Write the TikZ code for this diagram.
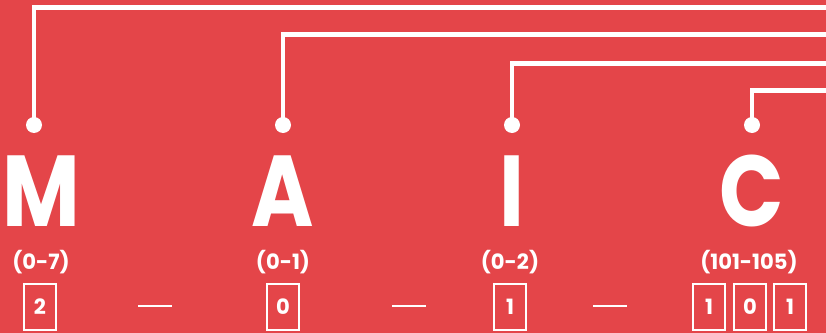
\documentclass[tikz,border=0pt]{standalone}
\usepackage{fontspec}
\setmainfont{Poppins}
\definecolor{codered}{RGB}{228,69,73}
\tikzstyle{every node}=[font=\normalsize, text=white]
\tikzset{
  wire/.style={white, line width=4.2pt},
  pinpt/.style={circle, fill=white, inner sep=0pt, minimum size=0.48cm},
  letter/.style={anchor=base, inner sep=0pt, text depth=0pt, xscale=0.84, transform shape,
    font=\fontsize{86}{86}\selectfont\bfseries},
  rangelbl/.style={inner sep=0pt, font=\fontsize{18}{18}\selectfont\bfseries},
  digitbox/.style={draw=white, line width=1.6pt, inner sep=0pt, minimum width=0.96cm,
    minimum height=1.4cm, font=\fontsize{18}{18}\selectfont\bfseries},
  dashline/.style={white, line width=1.6pt}
}

\begin{document}
\begin{tikzpicture}[x=0.03cm, y=-0.03cm]
  \useasboundingbox[fill=codered] (0,0) rectangle (826,333);
  \clip (0,0) rectangle (826,333);

  % Buchstaben
  \node[letter] (M) at (41,226) {M};
  \node[letter] (A) at (283,226) {A};
  \node[letter] (I) at (512,226) {I};
  \node[letter] (C) at (752,226) {C};

  % Stifte und Leitungen
  \node[pinpt] (pM) at (34,125) {};
  \node[pinpt] (pA) at (283,125) {};
  \node[pinpt] (pI) at (512,125) {};
  \node[pinpt] (pC) at (752,125) {};
  \coordinate (eM) at (840,7.5);
  \coordinate (eA) at (840,34.5);
  \coordinate (eI) at (840,63.5);
  \coordinate (eC) at (840,90.5);
  \draw[wire] (pM.center) |- (eM);
  \draw[wire] (pA.center) |- (eA);
  \draw[wire] (pI.center) |- (eI);
  \draw[wire] (pC.center) |- (eC);

  % Bereiche
  \node[rangelbl] (rM) at (41,262) {(0-7)};
  \node[rangelbl] (rA) at (283,262) {(0-1)};
  \node[rangelbl] (rI) at (510,262) {(0-2)};
  \node[rangelbl] (rC) at (749,262) {(101-105)};

  % Ziffern
  \node[digitbox] (bM) at (40,307) {2};
  \node[digitbox] (bA) at (283,307) {0};
  \node[digitbox] (bI) at (510,307) {1};
  \node[digitbox] (bC1) at (709,307) {1};
  \node[digitbox] (bC2) at (750,307) {0};
  \node[digitbox] (bC3) at (790,307) {1};

  % Striche
  \draw[dashline] (138,306) -- (172,306);
  \draw[dashline] (392,306) -- (426,306);
  \draw[dashline] (593,306) -- (627,306);
\end{tikzpicture}
\end{document}
